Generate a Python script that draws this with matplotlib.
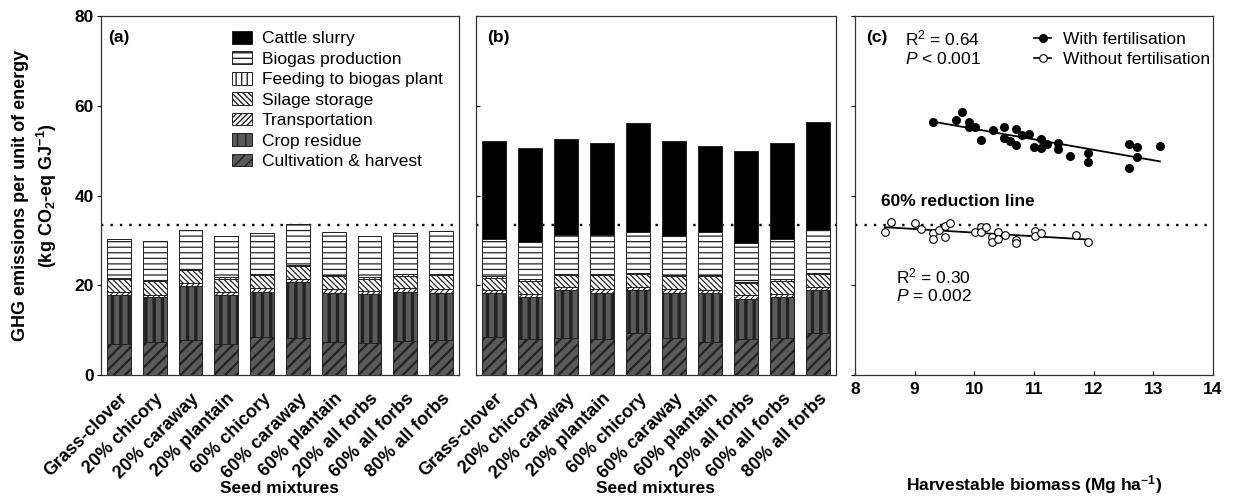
import numpy as np
import matplotlib
matplotlib.use('Agg')
import matplotlib.pyplot as plt
from matplotlib.patches import Patch
from matplotlib.lines import Line2D

plt.rcParams['font.family'] = ['Liberation Sans', 'DejaVu Sans']
plt.rcParams['mathtext.fontset'] = 'custom'
plt.rcParams['mathtext.rm'] = 'Liberation Sans'
plt.rcParams['mathtext.it'] = 'Liberation Sans:italic'
plt.rcParams['mathtext.bf'] = 'Liberation Sans:bold'

# ---------------- data ----------------
mixtures = ['Grass-clover', '20% chicory', '20% caraway', '20% plantain',
            '60% chicory', '60% caraway', '60% plantain', '20% all forbs',
            '60% all forbs', '80% all forbs']

layer_names = ['Cultivation & harvest', 'Crop residue', 'Transportation',
               'Silage storage', 'Feeding to biogas plant',
               'Biogas production', 'Cattle slurry']

# panel (a): without cattle slurry
a_cult = [7.0, 7.3, 7.7, 6.9, 8.4, 8.2, 7.4, 7.1, 7.6, 7.9]
a_crop = [10.8, 10.0, 12.1, 10.9, 10.2, 12.6, 10.9, 10.9, 11.0, 10.4]
a_trans = [0.6, 0.6, 0.8, 0.7, 0.7, 0.7, 0.8, 0.7, 0.7, 0.8]
a_silage = [3.0, 3.0, 2.7, 2.9, 3.0, 2.7, 2.9, 2.8, 2.8, 3.2]
a_feed = [0.3, 0.3, 0.3, 0.4, 0.3, 0.3, 0.3, 0.3, 0.3, 0.3]
a_biogas = [8.5, 8.7, 8.7, 9.2, 9.1, 9.1, 9.6, 9.2, 9.3, 9.5]
a_slurry = [0, 0, 0, 0, 0, 0, 0, 0, 0, 0]

# panel (b): with cattle slurry
b_cult = [8.4, 8.0, 8.2, 8.0, 9.3, 8.2, 7.4, 8.0, 8.3, 9.3]
b_crop = [9.8, 9.3, 10.7, 10.3, 9.6, 10.1, 10.8, 8.9, 9.0, 9.6]
b_trans = [0.7, 0.7, 0.6, 0.8, 0.6, 0.8, 0.7, 0.9, 0.7, 0.6]
b_silage = [2.8, 3.0, 2.8, 3.2, 3.0, 2.9, 3.1, 2.7, 3.0, 3.0]
b_feed = [0.3, 0.3, 0.3, 0.3, 0.3, 0.3, 0.3, 0.3, 0.3, 0.3]
b_biogas = [8.4, 8.4, 8.6, 8.6, 9.0, 8.7, 9.5, 8.7, 9.1, 9.5]
b_slurry = [21.7, 20.9, 21.4, 20.4, 24.3, 21.2, 19.3, 20.4, 21.2, 24.0]

reduction_line = 33.5

# panel (c)
fert_x = [9.31, 9.70, 9.80, 9.91, 9.91, 10.01, 10.11, 10.31, 10.50, 10.50,
          10.60, 10.70, 10.70, 10.80, 10.91, 11.00, 11.11, 11.11, 11.21, 11.40,
          11.40, 11.60, 11.91, 11.91, 12.60, 12.60, 12.72, 12.72, 13.11]
fert_y = [56.4, 56.8, 58.5, 56.3, 55.3, 55.2, 52.3, 54.6, 55.2, 52.9,
          52.2, 54.9, 51.2, 53.5, 53.6, 50.9, 52.6, 50.5, 51.4, 51.8,
          50.3, 48.8, 49.5, 47.4, 51.4, 46.2, 50.9, 48.5, 51.0]
nofert_x = [8.50, 8.60, 9.00, 9.10, 9.31, 9.31, 9.40, 9.50, 9.50, 9.60,
            10.01, 10.11, 10.11, 10.20, 10.30, 10.30, 10.40, 10.40, 10.51,
            10.70, 10.70, 11.01, 11.01, 11.11, 11.71, 11.91]
nofert_y = [31.9, 34.1, 33.8, 32.5, 31.7, 30.2, 32.3, 33.2, 30.7, 33.8,
            31.9, 33.0, 31.9, 32.9, 30.7, 29.7, 31.9, 30.4, 31.2,
            30.1, 29.5, 32.1, 31.0, 31.6, 31.2, 29.7]

# ---------------- styles ----------------
DG = '#5a5a5a'
styles = {
    'Cultivation & harvest': dict(fc=DG, hatch='///', hlw=1.6),
    'Crop residue': dict(fc=DG, hatch='||', hlw=2.4),
    'Transportation': dict(fc='white', hatch='//////', hlw=0.8),
    'Silage storage': dict(fc='white', hatch='\\\\\\\\\\\\', hlw=0.9),
    'Feeding to biogas plant': dict(fc='white', hatch='|||', hlw=0.9),
    'Biogas production': dict(fc='white', hatch='---', hlw=0.9),
    'Cattle slurry': dict(fc='black', hatch=None, hlw=0.9),
}

FS = 12.5
fig = plt.figure(figsize=(12.37, 4.98), dpi=100)
H = 498.0
W = 1237.0
bot = (H - 375) / H
hgt = 359 / H
ax_a = fig.add_axes([101 / W, bot, 358 / W, hgt])
ax_b = fig.add_axes([476 / W, bot, 360 / W, hgt])
ax_c = fig.add_axes([855 / W, bot, 358 / W, hgt])


def draw_bars(ax, data):
    x = np.arange(len(mixtures))
    bottom = np.zeros(len(mixtures))
    for name, vals in zip(layer_names, data):
        st = styles[name]
        vals = np.array(vals, dtype=float)
        with plt.rc_context({'hatch.linewidth': st['hlw']}):
            bars = ax.bar(x, vals, 0.67, bottom=bottom, color=st['fc'],
                          edgecolor='#222222', hatch=st['hatch'],
                          linewidth=0.7, zorder=3)
        for p in bars:
            if hasattr(p, 'set_hatch_linewidth'):
                p.set_hatch_linewidth(st['hlw'])
        bottom += vals
    ax.axhline(reduction_line, color='black', ls=(0, (1, 3)), lw=1.7, zorder=2)
    ax.set_xlim(-0.5, len(mixtures) - 0.5)
    ax.set_ylim(0, 80)
    ax.set_xticks(x)
    ax.set_xticklabels(mixtures, rotation=45, ha='right', va='top',
                       rotation_mode='anchor', fontsize=13, fontweight='bold')
    ax.tick_params(axis='x', length=0, pad=11)
    ax.set_yticks([0, 20, 40, 60, 80])
    ax.set_xlabel('Seed mixtures', fontsize=FS, fontweight='bold', va='center')
    ax.xaxis.set_label_coords(0.5, -0.315)


draw_bars(ax_a, [a_cult, a_crop, a_trans, a_silage, a_feed, a_biogas, a_slurry])
draw_bars(ax_b, [b_cult, b_crop, b_trans, b_silage, b_feed, b_biogas, b_slurry])

for lab in ax_a.get_yticklabels():
    lab.set_fontweight('bold')
    lab.set_fontsize(FS)
ax_a.tick_params(axis='y', direction='out', length=3, pad=2)
ax_a.set_ylabel('GHG emissions per unit of energy\n(kg CO$_\\mathbf{2}$-eq GJ$^\\mathbf{-1}$)',
                fontsize=13, fontweight='bold', linespacing=1.3)
ax_a.yaxis.set_label_coords(-0.118, 0.5)

ax_b.tick_params(axis='y', direction='in', length=3, labelleft=False)

ax_a.text(0.02, 0.94, '(a)', transform=ax_a.transAxes, fontsize=FS,
          fontweight='bold', va='center', ha='left')
ax_b.text(0.03, 0.94, '(b)', transform=ax_b.transAxes, fontsize=FS,
          fontweight='bold', va='center', ha='left')

# legend (a): order top to bottom
handles = []
for name in reversed(layer_names):
    st = styles[name]
    with plt.rc_context({'hatch.linewidth': st['hlw'] * 0.8}):
        ph = Patch(facecolor=st['fc'], edgecolor='#222222', hatch=st['hatch'],
                   linewidth=0.7, label=name)
    handles.append(ph)
ax_a.legend(handles=handles, loc='upper left', bbox_to_anchor=(0.355, 0.968),
            frameon=False, fontsize=FS, handlelength=1.15, handleheight=0.75,
            handletextpad=0.6, labelspacing=0.29, borderaxespad=0, borderpad=0.2)

# ---------------- panel (c) ----------------
ax_c.plot(fert_x, fert_y, 'o', ms=5.5, mfc='black', mec='black', zorder=4)
ax_c.plot(nofert_x, nofert_y, 'o', ms=5.5, mfc='white', mec='black', mew=0.8,
          zorder=4)
for xs, ys in [(fert_x, fert_y), (nofert_x, nofert_y)]:
    k, b0 = np.polyfit(xs, ys, 1)
    xx = np.array([min(xs), max(xs)])
    ax_c.plot(xx, k * xx + b0, color='black', lw=1.3, zorder=3)
ax_c.axhline(reduction_line, color='black', ls=(0, (1, 3)), lw=1.7, zorder=2)
ax_c.set_xlim(8, 14)
ax_c.set_ylim(0, 80)
ax_c.set_xticks([8, 9, 10, 11, 12, 13, 14])
ax_c.set_yticks([0, 20, 40, 60, 80])
ax_c.tick_params(axis='x', direction='in', length=3, pad=5, labelsize=FS)
for lab in ax_c.get_xticklabels():
    lab.set_fontweight('bold')
ax_c.tick_params(axis='y', direction='out', length=3, labelleft=False)
ax_c.set_xlabel('Harvestable biomass (Mg ha$^\\mathbf{-1}$)', fontsize=FS,
                fontweight='bold', va='center')
ax_c.xaxis.set_label_coords(0.5, -0.305)

ax_c.text(8.18, 75.1, '(c)', fontsize=FS, fontweight='bold', va='center')
ax_c.text(8.83, 75.1, 'R$^2$ = 0.64', fontsize=FS, va='center')
ax_c.text(8.83, 70.5, '$P$ < 0.001', fontsize=FS, va='center')
ax_c.text(8.44, 38.6, '60% reduction line', fontsize=FS, fontweight='bold',
          va='center')
ax_c.text(8.69, 22.0, 'R$^2$ = 0.30', fontsize=FS, va='center')
ax_c.text(8.69, 17.6, '$P$ = 0.002', fontsize=FS, va='center')

c_handles = [
    Line2D([], [], color='black', lw=1.2, marker='o', ms=5.5, mfc='black',
           mec='black', label='With fertilisation'),
    Line2D([], [], color='black', lw=1.2, marker='o', ms=5.5, mfc='white',
           mec='black', mew=0.8, label='Without fertilisation'),
]
ax_c.legend(handles=c_handles, loc='upper left', bbox_to_anchor=(0.49, 0.966),
            frameon=False, fontsize=FS, handlelength=1.0, handletextpad=0.7,
            labelspacing=0.3, borderaxespad=0, borderpad=0.2)

for ax in (ax_a, ax_b, ax_c):
    for sp in ax.spines.values():
        sp.set_color('#333333')
        sp.set_linewidth(0.9)

fig.savefig('out.png', dpi=100)
